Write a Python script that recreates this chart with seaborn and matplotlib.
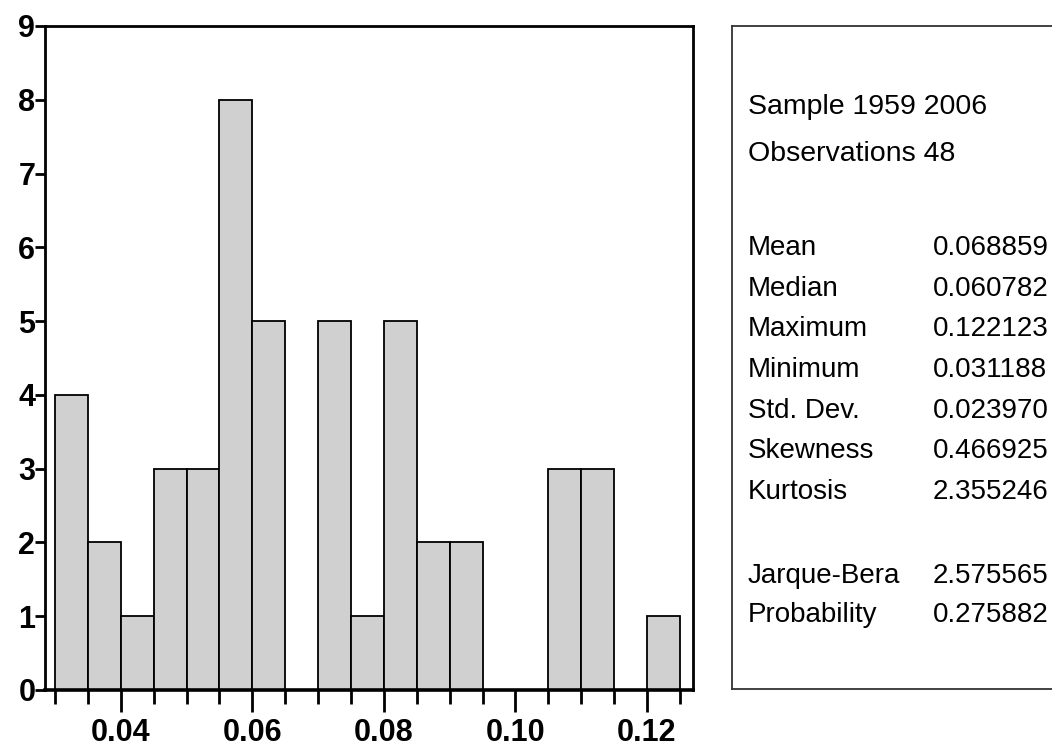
import numpy as np
import pandas as pd
import matplotlib
matplotlib.use("Agg")
import matplotlib.pyplot as plt
import seaborn as sns

# histogram bins (left edges) and counts
bin_left = [0.030, 0.035, 0.040, 0.045, 0.050, 0.055, 0.060, 0.065, 0.070, 0.075,
            0.080, 0.085, 0.090, 0.095, 0.100, 0.105, 0.110, 0.115, 0.120]
counts = [4, 2, 1, 3, 3, 8, 5, 0, 5, 1, 5, 2, 2, 0, 0, 3, 3, 0, 1]
bin_width = 0.005

x_ticks = [0.04, 0.06, 0.08, 0.10, 0.12]
x_ticklabels = ["0.04", "0.06", "0.08", "0.10", "0.12"]
y_ticks = [0, 1, 2, 3, 4, 5, 6, 7, 8, 9]

header = ["Sample 1959 2006", "Observations 48"]
stat_names = ["Mean", "Median", "Maximum", "Minimum", "Std. Dev.", "Skewness", "Kurtosis"]
stat_values = ["0.068859", "0.060782", "0.122123", "0.031188", "0.023970", "0.466925", "2.355246"]
test_names = ["Jarque-Bera", "Probability"]
test_values = ["2.575565", "0.275882"]

sns.set_style("white")
plt.rcParams["font.family"] = ["Liberation Sans", "DejaVu Sans"]
plt.rcParams["text.color"] = "black"
plt.rcParams["xtick.color"] = "black"
plt.rcParams["ytick.color"] = "black"

df = pd.DataFrame({"center": np.round(np.array(bin_left) + bin_width / 2, 4),
                   "count": counts})
edges = [round(b, 4) for b in bin_left] + [round(bin_left[-1] + bin_width, 4)]

fig = plt.figure(figsize=(10.52, 7.53), dpi=100)
ax = fig.add_axes([0.0428, 0.0837, 0.6159, 0.8818])

sns.histplot(data=df, x="center", weights="count", bins=edges, ax=ax,
             color="#d0d0d0", alpha=1, edgecolor="black", linewidth=1.3)

ax.set_xlim(0.02848, 0.127)
ax.set_ylim(0, 9)
ax.set_xlabel("")
ax.set_ylabel("")
ax.set_xticks(x_ticks)
ax.set_xticklabels(x_ticklabels)
ax.set_xticks(edges, minor=True)
ax.set_yticks(y_ticks)
ax.tick_params(axis="x", which="major", direction="out", length=16, width=2, pad=4, bottom=True)
ax.tick_params(axis="x", which="minor", direction="out", length=10, width=2, bottom=True)
ax.tick_params(axis="y", direction="out", length=7, width=2, pad=0, left=True)
for lab in ax.get_xticklabels() + ax.get_yticklabels():
    lab.set_fontweight("bold")
    lab.set_fontsize(22)
    lab.set_color("black")
for side in ["left", "top", "right"]:
    ax.spines[side].set_linewidth(2)
    ax.spines[side].set_color("black")
ax.spines["bottom"].set_linewidth(2.6)
ax.spines["bottom"].set_color("black")
ax.grid(False)

# statistics box
bx = fig.add_axes([0.6958, 0.085, 0.32, 0.8805])
bx.set_xlim(0, 1)
bx.set_ylim(753 - 689, 753 - 26)
bx.set_xticks([])
bx.set_yticks([])
for side in ["left", "top", "bottom"]:
    bx.spines[side].set_linewidth(1.3)
    bx.spines[side].set_color("#333333")
bx.spines["right"].set_visible(False)

tx = 16 / 336.6
vx = 201 / 336.6
fs = 20
bx.text(tx, 753 - 107, header[0], fontsize=20.5, va="center", ha="left")
bx.text(tx, 753 - 154, header[1], fontsize=20.5, va="center", ha="left")
for i, (n, v) in enumerate(zip(stat_names, stat_values)):
    y = 753 - (248 + i * 40.7)
    bx.text(tx, y, n, fontsize=fs, va="center", ha="left")
    bx.text(vx, y, v, fontsize=fs, va="center", ha="left")
for i, (n, v) in enumerate(zip(test_names, test_values)):
    y = 753 - (576 + i * 39.5)
    bx.text(tx, y, n, fontsize=fs, va="center", ha="left")
    bx.text(vx, y, v, fontsize=fs, va="center", ha="left")

fig.savefig("out.png", dpi=100)
